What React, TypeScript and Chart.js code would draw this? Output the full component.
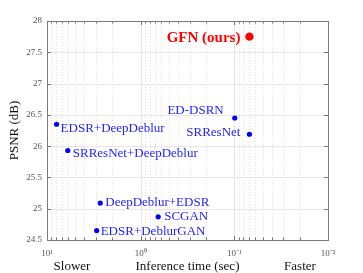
import React, { useEffect, useRef } from "react";
import { Chart, registerables } from "chart.js";

Chart.register(...registerables);

const methods = [
  "EDSR+DeepDeblur",
  "SRResNet+DeepDeblur",
  "DeepDeblur+EDSR",
  "SCGAN",
  "EDSR+DeblurGAN",
  "ED-DSRN",
  "SRResNet",
];
const times = [7.9, 6.0, 2.7, 0.65, 2.95, 0.099, 0.069];
const psnrs = [26.35, 25.93, 25.09, 24.87, 24.65, 26.45, 26.19];

const oursName = "GFN (ours)";
const oursTime = [0.069];
const oursPsnr = [27.75];

const xTickDecades = [10, 1, 0.1, 0.01];
const xTickLabels = ["10\u00B9", "10\u2070", "10\u207B\u00B9", "10\u207B\u00B2"];
const yTicks = [24.5, 25, 25.5, 26, 26.5, 27, 27.5, 28];

// label placement (style, not data): [dx, dy, align]
const labelPlacement: [number, number, CanvasTextAlign][] = [
  [4, 4, "left"],
  [5, 3, "left"],
  [5, -1, "left"],
  [6, 0, "left"],
  [4, 1, "left"],
  [-11, -7, "right"],
  [-9, -2, "right"],
];
const oursPlacement: [number, number, CanvasTextAlign] = [-9, 1, "right"];

const SERIF = "'Liberation Serif', 'Times New Roman', serif";

const decorPlugin = {
  id: "decor",
  beforeDatasetsDraw(chart: any) {
    const { ctx, chartArea: a, scales } = chart;
    const xs = scales.x;
    const ys = scales.y;
    ctx.save();
    const minors: number[] = [];
    for (let e = -2; e < 1; e++) {
      for (let m = 2; m <= 9; m++) minors.push(m * Math.pow(10, e));
    }
    ctx.strokeStyle = "#e2e2e2";
    ctx.lineWidth = 1;
    ctx.setLineDash([1, 2]);
    for (const v of minors) {
      const px = Math.round(xs.getPixelForValue(v)) + 0.5;
      ctx.beginPath();
      ctx.moveTo(px, a.top);
      ctx.lineTo(px, a.bottom);
      ctx.stroke();
    }
    ctx.setLineDash([]);
    ctx.strokeStyle = "#e6e6e6";
    for (const v of xTickDecades) {
      const px = Math.round(xs.getPixelForValue(v)) + 0.5;
      ctx.beginPath();
      ctx.moveTo(px, a.top);
      ctx.lineTo(px, a.bottom);
      ctx.stroke();
    }
    for (const v of yTicks) {
      const py = Math.round(ys.getPixelForValue(v)) + 0.5;
      ctx.beginPath();
      ctx.moveTo(a.left, py);
      ctx.lineTo(a.right, py);
      ctx.stroke();
    }
    ctx.strokeStyle = "#777";
    const all = minors.concat(xTickDecades);
    for (const v of all) {
      const px = Math.round(xs.getPixelForValue(v)) + 0.5;
      const len = xTickDecades.includes(v) ? 4 : 2.5;
      ctx.beginPath();
      ctx.moveTo(px, a.bottom);
      ctx.lineTo(px, a.bottom - len);
      ctx.moveTo(px, a.top);
      ctx.lineTo(px, a.top + len);
      ctx.stroke();
    }
    for (const v of yTicks) {
      const py = Math.round(ys.getPixelForValue(v)) + 0.5;
      ctx.beginPath();
      ctx.moveTo(a.left, py);
      ctx.lineTo(a.left + 4, py);
      ctx.moveTo(a.right, py);
      ctx.lineTo(a.right - 4, py);
      ctx.stroke();
    }
    ctx.strokeStyle = "#7a7a7a";
    ctx.strokeRect(
      Math.round(a.left) + 0.5,
      Math.round(a.top) + 0.5,
      Math.round(a.right - a.left),
      Math.round(a.bottom - a.top)
    );
    ctx.restore();
  },
  afterDatasetsDraw(chart: any) {
    const { ctx, chartArea: a } = chart;
    ctx.save();
    ctx.textBaseline = "middle";
    const m0 = chart.getDatasetMeta(0);
    ctx.font = `13px ${SERIF}`;
    ctx.fillStyle = "#1f1fff";
    methods.forEach((name, i) => {
      const el = m0.data[i];
      const [dx, dy, al] = labelPlacement[i];
      ctx.textAlign = al;
      ctx.fillText(name, el.x + dx, el.y + dy);
    });
    const m1 = chart.getDatasetMeta(1);
    const e1 = m1.data[0];
    ctx.font = `bold 15px ${SERIF}`;
    ctx.fillStyle = "#ff0000";
    ctx.textAlign = oursPlacement[2];
    ctx.fillText(oursName, e1.x + oursPlacement[0], e1.y + oursPlacement[1]);

    ctx.fillStyle = "#111";
    ctx.font = `13px ${SERIF}`;
    ctx.textAlign = "center";
    ctx.fillText("Inference time (sec)", (a.left + a.right) / 2, 267);
    ctx.fillText("Slower", 72, 267);
    ctx.fillText("Faster", 300, 267);
    ctx.save();
    ctx.translate(15, (a.top + a.bottom) / 2);
    ctx.rotate(-Math.PI / 2);
    ctx.fillText("PSNR (dB)", 0, 0);
    ctx.restore();
    ctx.restore();
  },
};

export default function App() {
  const ref = useRef<HTMLCanvasElement | null>(null);
  useEffect(() => {
    if (!ref.current) return;
    const chart = new Chart(ref.current, {
      type: "scatter",
      data: {
        datasets: [
          {
            label: "others",
            data: methods.map((_, i) => ({ x: times[i], y: psnrs[i] })),
            backgroundColor: "#0000ff",
            borderColor: "#0000ff",
            pointRadius: 2.6,
            borderWidth: 0,
          },
          {
            label: oursName,
            data: oursTime.map((t, i) => ({ x: t, y: oursPsnr[i] })),
            backgroundColor: "#ff0000",
            borderColor: "#ff0000",
            pointRadius: 4.2,
            borderWidth: 0,
          },
        ],
      },
      options: {
        animation: false,
        responsive: true,
        maintainAspectRatio: false,
        layout: { padding: { left: 0, right: 35, top: 21, bottom: 0 } },
        plugins: { legend: { display: false }, tooltip: { enabled: false } },
        scales: {
          x: {
            type: "logarithmic",
            min: 0.01,
            max: 10,
            reverse: true,
            grid: { display: false, drawTicks: false },
            border: { display: false },
            afterFit: (s: any) => {
              s.height = 33;
            },
            ticks: {
              autoSkip: false,
              maxRotation: 0,
              padding: 8,
              color: "#555",
              font: { family: SERIF, size: 9 },
              callback: (v: any) => {
                const idx = xTickDecades.findIndex(
                  (d) => Math.abs(Math.log10(Number(v)) - Math.log10(d)) < 1e-6
                );
                return idx >= 0 ? xTickLabels[idx] : "";
              },
            },
          },
          y: {
            type: "linear",
            min: 24.5,
            max: 28,
            grid: { display: false, drawTicks: false },
            border: { display: false },
            afterFit: (s: any) => {
              s.width = 47;
            },
            ticks: {
              stepSize: 0.5,
              padding: 5,
              color: "#555",
              font: { family: SERIF, size: 9 },
              callback: (v: any) => String(v),
            },
          },
        },
      },
      plugins: [decorPlugin],
    });
    return () => chart.destroy();
  }, []);
  return (
    <div style={{ position: "fixed", left: 0, top: 0, width: 363, height: 273, background: "#fff" }}>
      <canvas ref={ref} />
    </div>
  );
}
